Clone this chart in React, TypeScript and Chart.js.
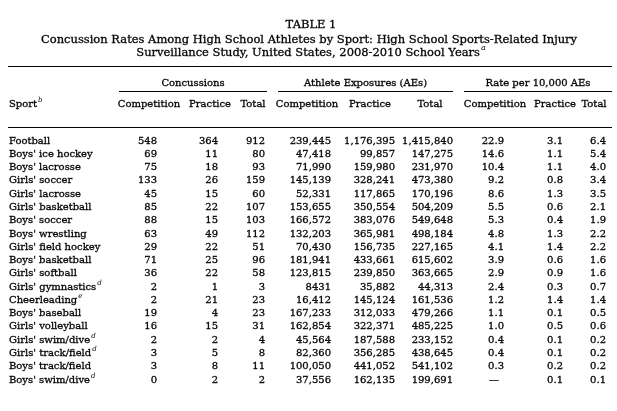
import React, { useEffect, useRef } from "react";
import { Chart, registerables } from "chart.js";

Chart.register(...registerables);

// ---------- DATA ----------
const titleLines = [
  "TABLE 1",
  "Concussion Rates Among High School Athletes by Sport: High School Sports-Related Injury",
  "Surveillance Study, United States, 2008-2010 School Years",
];
const titleNote = "a";

const sports = [
  "Football",
  "Boys' ice hockey",
  "Boys' lacrosse",
  "Girls' soccer",
  "Girls' lacrosse",
  "Girls' basketball",
  "Boys' soccer",
  "Boys' wrestling",
  "Girls' field hockey",
  "Boys' basketball",
  "Girls' softball",
  "Girls' gymnastics",
  "Cheerleading",
  "Boys' baseball",
  "Girls' volleyball",
  "Girls' swim/dive",
  "Girls' track/field",
  "Boys' track/field",
  "Boys' swim/dive",
];
const sportNotes = ["", "", "", "", "", "", "", "", "", "", "", "d", "e", "", "", "d", "d", "", "d"];

const concComp = [548, 69, 75, 133, 45, 85, 88, 63, 29, 71, 36, 2, 2, 19, 16, 2, 3, 3, 0];
const concPrac = [364, 11, 18, 26, 15, 22, 15, 49, 22, 25, 22, 1, 21, 4, 15, 2, 5, 8, 2];
const concTotal = [912, 80, 93, 159, 60, 107, 103, 112, 51, 96, 58, 3, 23, 23, 31, 4, 8, 11, 2];
const aeComp = [239445, 47418, 71990, 145139, 52331, 153655, 166572, 132203, 70430, 181941, 123815, 8431, 16412, 167233, 162854, 45564, 82360, 100050, 37556];
const aePrac = [1176395, 99857, 159980, 328241, 117865, 350554, 383076, 365981, 156735, 433661, 239850, 35882, 145124, 312033, 322371, 187588, 356285, 441052, 162135];
const aeTotal = [1415840, 147275, 231970, 473380, 170196, 504209, 549648, 498184, 227165, 615602, 363665, 44313, 161536, 479266, 485225, 233152, 438645, 541102, 199691];
const rateComp: (number | null)[] = [22.9, 14.6, 10.4, 9.2, 8.6, 5.5, 5.3, 4.8, 4.1, 3.9, 2.9, 2.4, 1.2, 1.1, 1.0, 0.4, 0.4, 0.3, null];
const ratePrac = [3.1, 1.1, 1.1, 0.8, 1.3, 0.6, 0.4, 1.3, 1.4, 0.6, 0.9, 0.3, 1.4, 0.1, 0.5, 0.1, 0.1, 0.2, 0.1];
const rateTotal = [6.4, 5.4, 4.0, 3.4, 3.5, 2.1, 1.9, 2.2, 2.2, 1.6, 1.6, 0.7, 1.4, 0.5, 0.6, 0.2, 0.2, 0.2, 0.1];

const groupHeaders = ["Concussions", "Athlete Exposures (AEs)", "Rate per 10,000 AEs"];
const columnHeaders = ["Competition", "Practice", "Total", "Competition", "Practice", "Total", "Competition", "Practice", "Total"];
const sportHeader = "Sport";
const sportHeaderNote = "b";

// ---------- LAYOUT (table units, 0..604 across the table) ----------
const COL_RIGHT = [149, 210, 257, 323, 387, 445, 496, 555, 598];
const COL_HEAD_CENTER = [141, 202, 245, 299, 362, 422, 487, 547, 586];
const GROUP_SPAN = [
  [111, 259],
  [270, 445],
  [456, 604],
];

const FONT = '"DejaVu Serif", serif';
const INK = "#050505";
const WEIGHT = 0.3;

const fmtCount = (v: number) => String(v);
const fmtAE = (v: number) => (v >= 10000 ? v.toLocaleString("en-US") : String(v));
const fmtRate = (v: number | null) => (v === null ? "\u2014" : v.toFixed(1));

const columns: { values: (number | null)[]; fmt: (v: any) => string }[] = [
  { values: concComp, fmt: fmtCount },
  { values: concPrac, fmt: fmtCount },
  { values: concTotal, fmt: fmtCount },
  { values: aeComp, fmt: fmtAE },
  { values: aePrac, fmt: fmtAE },
  { values: aeTotal, fmt: fmtAE },
  { values: rateComp, fmt: fmtRate },
  { values: ratePrac, fmt: fmtRate },
  { values: rateTotal, fmt: fmtRate },
];

function inkText(ctx: CanvasRenderingContext2D, t: string, x: number, y: number) {
  ctx.fillText(t, x, y);
  ctx.lineWidth = WEIGHT;
  ctx.strokeText(t, x, y);
}

function drawWithSup(ctx: CanvasRenderingContext2D, text: string, sup: string, x: number, y: number, size: number, align: "left" | "center") {
  ctx.font = `${size}px ${FONT}`;
  const w = ctx.measureText(text).width;
  ctx.font = `italic ${Math.round(size * 0.7)}px ${FONT}`;
  const sw = sup ? ctx.measureText(sup).width + 1 : 0;
  const start = align === "center" ? x - (w + sw) / 2 : x;
  ctx.textAlign = "left";
  ctx.textBaseline = "middle";
  ctx.font = `${size}px ${FONT}`;
  inkText(ctx, text, start, y);
  if (sup) {
    ctx.font = `italic ${Math.round(size * 0.7)}px ${FONT}`;
    ctx.fillText(sup, start + w + 1, y - size * 0.4);
  }
}

const tablePlugin = {
  id: "tableText",
  afterDatasetsDraw(chart: any) {
    const ctx: CanvasRenderingContext2D = chart.ctx;
    const xs = chart.scales.x;
    const top = chart.chartArea.top;
    const left = chart.chartArea.left;
    const right = chart.chartArea.right;
    ctx.save();
    ctx.fillStyle = INK;
    ctx.strokeStyle = INK;

    // title
    const cx = (left + right) / 2 + 1;
    drawWithSup(ctx, titleLines[0], "", cx, 25, 11.5, "center");
    drawWithSup(ctx, titleLines[1], "", cx - 2, 40, 11.5, "center");
    drawWithSup(ctx, titleLines[2], titleNote, cx, 53, 11.5, "center");

    // rules
    const hline = (x1: number, x2: number, y: number) => {
      ctx.lineWidth = 1;
      ctx.beginPath();
      ctx.moveTo(x1, Math.round(y) + 0.5);
      ctx.lineTo(x2, Math.round(y) + 0.5);
      ctx.stroke();
    };
    hline(left, right, top - 75);
    hline(left, right, top - 14);
    GROUP_SPAN.forEach(([a, b], g) => {
      const x1 = xs.getPixelForValue(a);
      const x2 = xs.getPixelForValue(b);
      hline(x1, x2, top - 50);
      drawWithSup(ctx, groupHeaders[g], "", (x1 + x2) / 2, top - 58, 10, "center");
    });

    // headers
    drawWithSup(ctx, sportHeader, sportHeaderNote, left + 1, top - 37, 10, "left");
    columnHeaders.forEach((h, c) => {
      drawWithSup(ctx, h, "", xs.getPixelForValue(COL_HEAD_CENTER[c]), top - 37, 10, "center");
    });

    // sport names
    const ys = chart.scales.y;
    sports.forEach((s, i) => {
      drawWithSup(ctx, s, sportNotes[i], left + 1, ys.getPixelForValue(i), 10, "left");
    });

    // values
    ctx.font = `10px ${FONT}`;
    ctx.textBaseline = "middle";
    columns.forEach((col, c) => {
      const meta = chart.getDatasetMeta(c);
      meta.data.forEach((pt: any, i: number) => {
        const v = col.values[i];
        const txt = col.fmt(v);
        if (v === null) {
          ctx.textAlign = "center";
          inkText(ctx, txt, pt.x - 10, pt.y);
        } else {
          ctx.textAlign = "right";
          inkText(ctx, txt, pt.x, pt.y);
        }
      });
    });
    ctx.restore();
  },
};

export default function App() {
  const ref = useRef<HTMLCanvasElement>(null);
  useEffect(() => {
    if (!ref.current) return;
    const chart = new Chart(ref.current, {
      type: "scatter",
      data: {
        datasets: columns.map((col, c) => ({
          label: columnHeaders[c],
          data: col.values.map((_, i) => ({ x: COL_RIGHT[c], y: sports[i] })) as any,
          pointRadius: 0,
          pointHoverRadius: 0,
        })),
      },
      options: {
        animation: false,
        responsive: false,
        devicePixelRatio: 1,
        events: [],
        layout: { padding: { left: 8, right: 5, top: 141, bottom: 31 } },
        scales: {
          x: { type: "linear", min: 0, max: 604, display: false },
          y: { type: "category", labels: sports, offset: false, display: false },
        },
        plugins: {
          legend: { display: false },
          tooltip: { enabled: false },
          title: { display: false },
        },
      },
      plugins: [tablePlugin],
    });
    return () => chart.destroy();
  }, []);
  return (
    <div style={{ position: "absolute", left: 0, top: 0, width: 617, height: 411, background: "#fff" }}>
      <canvas ref={ref} width={617} height={411} style={{ width: 617, height: 411, display: "block" }} />
    </div>
  );
}
